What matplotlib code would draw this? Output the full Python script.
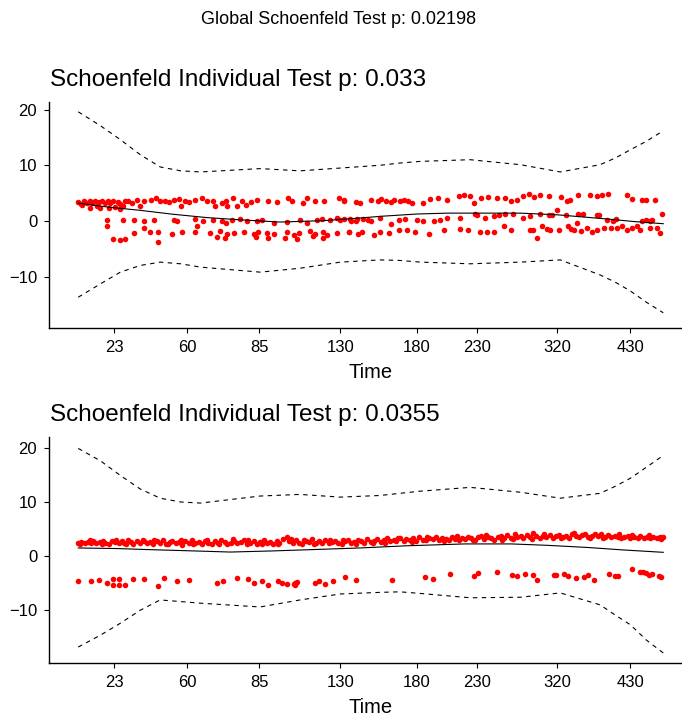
import matplotlib.pyplot as plt

plt.rcParams['font.family'] = ['Liberation Sans', 'DejaVu Sans']

# x is the transformed (rank-scaled) time, 0..100; tick labels are real times
tick_pos = [6.15, 18.6, 30.9, 44.8, 57.9, 68.2, 81.9, 94.4]
tick_lab = ['23', '60', '85', '130', '180', '230', '320', '430']

global_title = 'Global Schoenfeld Test p: 0.02198'
titles = ['Schoenfeld Individual Test p: 0.033', 'Schoenfeld Individual Test p: 0.0355']

# ---- panel 1 residuals ----
p1_x = [0, 0.5, 0.6, 1.0, 1.5, 2, 2.4, 2.8, 3.2, 3.6, 4, 4.5, 5, 5.4, 6, 6.3, 6.8, 7.2, 7.6, 8,
        2, 3.8, 5.2, 7.2,
        8.5, 9.2, 10, 10.6, 11.3, 12.5, 13.3, 14, 14.8, 15.5, 16.4, 17.2, 17.5, 18.2, 19, 20, 21.1, 22,
        23, 23.4, 24.5, 25.2, 25.4, 26.5, 27.1, 28, 28.7, 29.5, 30.5, 32.5, 34, 35.9, 36.5, 38.5, 39.1,
        40.5, 42, 44.5, 45.5, 47.5,
        45.4, 48.2, 50, 51.2, 51.7, 52.6, 53.4, 54, 55, 55.6, 56.3, 57, 58.9, 60.2, 61.5, 63, 65, 66, 67,
        67.6, 68.8, 70, 71.5, 73, 74, 75, 76, 77, 77.9, 79, 80.5, 82.5, 83.5, 84, 85.5, 87.5, 88.6, 89.5,
        90.5, 93.8, 94.7, 96.3, 97, 98.6,
        # middle band
        4.9, 4.9, 7.7, 9.5, 11.2, 12.9, 16.3, 16.9, 20, 21.4, 23.1, 24.6, 25.2, 26.3, 27.7, 28.8, 30.6,
        31.4, 33.4, 35.7, 37.9, 39.1, 40.8, 41.7, 43.1, 44.2, 45.4, 46.6, 47.6,
        44.8, 46.5, 47.5, 48.6, 49.5, 50, 51.6, 53.4, 54.8, 55.8, 57.9, 59, 60.8, 61.9, 63, 65.3, 67.9,
        68.2, 69.6, 71, 71.9, 73, 74.4, 76.1, 77.3, 79, 80.5, 81, 81.9, 83.3, 85.5, 86.3, 88.7, 89, 90.4,
        91.4, 92, 96.4, 97, 97.8, 98.1, 99.8,
        # lower band
        9.5, 12.3, 13.7, 16, 17.7, 20, 22.6, 24.3, 25.4, 26.6, 28.3, 30, 30.8, 32.3, 33.4, 35.7, 36.8,
        37.7, 39.7, 40.5, 41.9, 42.5, 44.2, 46.2, 47.9,
        6, 7.1, 8, 13.7, 23.7, 25.1, 30.3, 32.5, 35.4, 37.4, 40.2, 41.9, 11.2, 20.3,
        46.2, 48.5, 50.5, 51.6, 53.1, 54.8, 56.2, 57.6, 59.9, 62.5, 65.3, 66.7, 68.7, 69.9, 71, 72.7,
        73.9, 77.3, 77.8, 78.4, 79.3, 80.1, 80.7, 82.1, 83.8, 84.7, 85.3, 87, 87.8, 88.7, 89.8, 91,
        92.1, 93, 93.8, 94.7, 95.5, 96.1, 97.8, 98.9, 99.5, 84.2, 85.9]
p1_y = [3.4, 3.1, 2.8, 3.5, 3.3, 3.6, 3.2, 3.5, 2.6, 3.4, 3.6, 3.2, 3.5, 3.3, 3.6, 2.5, 3.4, 3.1, 2.7, 3.5,
        2.3, 2.3, 2.4, 2.2,
        3.6, 3.3, 3.7, 2.6, 3.5, 3.7, 4.1, 3.5, 3.6, 3.4, 3.7, 4.0, 2.6, 3.6, 3.4, 3.7, 4.1, 3.5,
        3.6, 2.6, 3.3, 3.6, 2.7, 4.1, 2.6, 3.5, 2.9, 3.4, 3.7, 3.5, 3.4, 4.1, 3.6, 3.3, 4.1,
        3.5, 3.6, 4.1, 3.7, 3.4,
        3.5, 3.3, 3.8, 3.5, 4.0, 3.6, 3.4, 3.7, 3.5, 3.8, 3.6, 3.3, 3.2, 4.0, 4.2, 3.7, 4.5, 4.6, 4.4,
        3.2, 4.2, 4.3, 4.1, 4.1, 3.5, 3.8, 4.4, 4.8, 4.3, 4.6, 4.5, 4.3, 3.6, 3.8, 4.6, 4.6, 4.5, 4.7,
        4.8, 4.6, 4.0, 3.8, 3.8, 3.8,
        0.2, -1.0, 0.2, 0.2, -0.1, 0.2, 0.2, -0.1, 0.3, 0.0, 0.2, -0.1, -0.4, 0.1, 0.3, 0.0, -0.1,
        0.2, -0.3, -0.2, 0.2, -0.3, 0.1, 0.4, 0.2, 0.5, 0.3, -0.1, 0.4,
        0.1, 0.3, -0.1, 0.4, 0.2, 0.0, 0.5, -0.6, 0.2, 0.4, 0.2, 0.0, -0.1, 0.2, 0.6, 0.5, 1.3,
        1.1, 0.5, 0.8, 1.1, 1.2, 1.3, 0.5, 0.8, 1.2, 1.1, 1.0, 1.9, 1.1, 1.2, 1.2, 1.1, 1.0, 0.2,
        0.0, 0.3, 0.0, 0.2, -0.1, 0.1, 1.2,
        -2.1, -1.9, -2.0, -2.3, -2.0, -1.9, -2.2, -1.8, -2.4, -2.1, -2.0, -2.3, -1.9, -2.1, -2.4, -2.0, -2.5,
        -2.2, -1.8, -2.3, -2.0, -2.5, -2.1, -1.9, -2.3,
        -3.3, -3.4, -3.2, -3.7, -2.9, -3.0, -2.8, -3.1, -3.0, -3.3, -2.7, -3.1, -1.3, -1.0,
        -1.9, -1.9, -2.5, -1.9, -2.2, -1.7, -1.7, -1.9, -2.3, -1.7, -1.4, -1.6, -1.9, -1.9, -1.9, -1.0,
        -1.7, -1.7, -1.7, -3.0, -1.0, -1.4, -1.6, -1.7, -1.0, -1.6, -0.4, -1.3, -1.9, -1.6, -1.3, -1.3,
        -1.3, -1.0, -1.6, -1.3, -1.0, -1.6, -1.3, -1.3, -2.2, -1.4, -1.8]

p1_fit_x = [0, 5, 10.6, 16.2, 22, 27.7, 34.5, 41.9, 46, 52, 58, 63.1, 75.6, 81.9, 90.4, 94.9, 100]
p1_fit_y = [3.2, 2.5, 1.9, 1.2, 0.6, 0.2, -0.2, 0.05, 0.35, 0.85, 1.25, 1.4, 1.4, 1.1, 0.35, -0.1, -0.5]

band_x = [0, 3.8, 7.2, 10.6, 14, 17.5, 20.9, 31.1, 37.9, 44.8, 51.6, 55, 58.5, 67, 75.6, 82.4,
          89.2, 91.8, 94.4, 97.1, 100]
p1_hi = [19.6, 17.1, 14.6, 11.9, 9.7, 9.0, 8.8, 9.4, 9.0, 9.5, 10.0, 10.4, 10.7, 11.0, 10.1, 8.8,
         10.1, 11.3, 12.8, 14.3, 16.2]
p1_lo = [-13.7, -11.3, -9.2, -8.0, -7.4, -7.7, -8.3, -9.2, -8.5, -7.4, -7.0, -7.1, -7.4, -7.7, -7.4, -7.0,
         -9.7, -11.0, -12.6, -14.6, -16.5]

# ---- panel 2 residuals ----
p2_x = [0, 0.5, 1.1, 1.6, 2.2, 2.6, 3.1, 3.7, 4.2, 4.6, 5.3, 5.8, 6.2, 6.9, 7.4, 7.9, 8.5, 9.0, 9.4, 10.1,
        10.6, 11.2, 11.7, 12.3, 12.8, 13.4, 13.9, 14.5, 15.0, 15.6, 16.1, 16.7, 17.2, 17.8, 18.3, 18.9,
        19.4, 20.0, 20.6, 21.1, 21.7, 22.2, 22.8, 23.3, 23.9, 24.4, 25.0, 25.5, 26.1, 26.7, 27.2, 27.8,
        28.3, 28.9, 29.4, 30.0, 30.6, 31.1, 31.7, 32.2, 32.8, 33.3, 33.9, 34.4, 35.0, 35.6, 36.1, 36.7,
        37.2, 37.8, 38.3, 38.9, 39.4, 40.0, 40.6, 41.1, 41.7, 42.2, 42.8, 43.3, 43.9, 44.4, 45.0, 45.6,
        46.1, 46.7, 47.2, 47.8, 48.3, 48.9, 49.4, 50.0, 50.6, 51.1, 51.7, 52.2, 52.8, 53.3, 53.9, 54.4,
        55.0, 55.6, 56.1, 56.7, 57.2, 57.8, 58.3, 58.9, 59.4, 60.0, 60.6, 61.1, 61.7, 62.2, 62.8, 63.3,
        63.9, 64.4, 65.0, 65.6, 66.1, 66.7, 67.2, 67.8, 68.3, 68.9, 69.4, 70.0, 70.6, 71.1, 71.7, 72.2,
        72.8, 73.3, 73.9, 74.4, 75.0, 75.6, 76.1, 76.7, 77.2, 77.8, 78.3, 78.9, 79.4, 80.0, 80.6, 81.1,
        81.7, 82.2, 82.8, 83.3, 83.9, 84.4, 85.0, 85.6, 86.1, 86.7, 87.2, 87.8, 88.3, 88.9, 89.4, 90.0,
        90.6, 91.1, 91.7, 92.2, 92.8, 93.3, 93.9, 94.4, 95.0, 95.6, 96.1, 96.7, 97.2, 97.8, 98.3, 98.9,
        99.4, 100,
        0.3, 2.0, 4.0, 6.5, 8.2, 11.0, 13.0, 15.3, 17.5, 19.7, 22.0, 24.1, 26.4, 29.1, 31.4, 34.1, 36.4,
        38.6, 40.3, 43.0, 45.3, 47.5, 50.3, 52.5, 54.7, 57.0, 59.7, 62.5, 64.7, 67.5, 69.7, 72.5, 74.7,
        77.5, 79.7, 82.5, 84.7, 87.5, 89.7, 92.5, 94.7, 97.5, 99.7,
        # lower group
        0, 2.1, 3.5, 4.9, 5.9, 5.9, 6.9, 6.9, 8, 9.3, 11.3, 13.7, 14.7, 16.9, 19, 23.7, 24.7, 27.1, 29.1,
        30, 31.4, 32.5, 34.1, 34.8, 35.7, 37.1, 36.8, 37.4, 37.1, 40.5, 41.1, 42.2, 43.5, 45.6, 47.4,
        53.6, 59.3, 60.6, 63.5, 67.6, 68.4, 71.6, 74.1, 75, 76.4, 77.8, 78.4, 81.6, 83, 83.8, 85, 86.4,
        87.2, 88.2, 90.7, 91.8, 94.7, 96.1, 97, 97.5, 98.1, 99.2, 81.3, 92.3, 96.6, 99.6]
p2_y = [2.5, 2.6, 2.4, 2.6, 2.5, 2.7, 2.4, 2.6, 2.8, 2.5, 2.3, 2.7, 2.6, 2.4, 2.8, 2.5, 2.9, 2.6, 2.3, 2.7,
        2.5, 2.8, 2.4, 2.6, 2.2, 2.7, 2.5, 2.9, 2.3, 2.6, 2.8, 2.4, 2.6, 2.1, 2.7, 2.5,
        2.9, 2.4, 2.6, 2.2, 2.8, 2.5, 2.3, 2.7, 2.4, 2.9, 2.6, 2.2, 2.5, 2.8, 2.4, 2.6,
        3.0, 2.3, 2.5, 2.7, 2.2, 2.6, 2.9, 2.4, 2.6, 2.3, 2.8, 2.5, 3.1, 3.6, 2.7, 2.4,
        2.9, 2.5, 2.3, 2.8, 2.6, 3.2, 2.4, 2.7, 2.5, 2.9, 2.4, 2.6, 2.8, 2.5, 2.3, 2.7,
        2.9, 2.4, 2.6, 3.0, 2.7, 2.5, 3.1, 2.6, 2.8, 3.2, 2.6, 2.9, 3.3, 2.7, 3.0, 2.8,
        3.4, 2.7, 3.1, 2.9, 3.3, 2.8, 3.5, 3.0, 2.9, 3.3, 3.1, 3.6, 2.9, 3.4, 3.2, 3.0,
        3.5, 3.2, 2.9, 3.4, 3.1, 3.6, 3.3, 3.0, 3.5, 3.8, 3.2, 3.6, 3.4, 3.0, 3.5, 3.7,
        3.3, 3.9, 3.4, 3.1, 3.6, 3.8, 3.4, 3.9, 3.5, 4.2, 3.7, 3.4, 3.8, 3.5, 3.9, 3.4,
        3.7, 3.9, 3.6, 3.8, 3.4, 4.0, 3.7, 3.5, 3.9, 4.1, 3.6, 3.8, 4.0, 3.7, 4.1, 3.6,
        3.9, 3.5, 3.8, 3.6, 3.4, 3.6, 3.8, 3.4, 3.5, 3.3, 3.7, 3.4, 3.6, 3.3, 3.5, 3.4,
        3.6, 3.5,
        2.2, 2.9, 2.2, 2.9, 2.3, 3.0, 2.9, 2.2, 3.0, 2.3, 2.9, 2.2, 3.1, 2.9, 2.3, 2.2, 3.2,
        3.0, 2.2, 3.0, 2.9, 2.2, 2.4, 2.5, 3.3, 2.6, 3.6, 2.8, 3.7, 2.9, 3.9, 3.0, 4.0,
        3.2, 4.1, 3.3, 4.2, 3.4, 3.3, 4.0, 3.9, 3.9, 3.2,
        -4.6, -4.6, -4.4, -5.0, -4.3, -5.3, -4.3, -5.3, -5.3, -4.3, -4.3, -5.5, -4.0, -4.6, -4.4, -4.9,
        -4.6, -4.0, -4.3, -4.9, -4.6, -5.3, -4.6, -4.9, -5.2, -4.9, -5.2, -4.7, -5.4, -4.9, -4.6, -5.2,
        -4.6, -3.8, -4.4,
        -4.5, -3.8, -4.3, -3.3, -3.6, -3.2, -3.0, -3.4, -3.6, -3.3, -3.4, -4.5, -3.4, -3.3, -3.6, -4.0,
        -3.9, -3.5, -4.4, -3.3, -3.6, -2.3, -2.9, -3.1, -3.4, -3.3, -3.6, -3.5, -3.6, -3.0, -3.9]

p2_fit_x = [0, 6.5, 12, 20, 26, 33, 40, 48, 56, 66, 74, 80, 87, 93, 100]
p2_fit_y = [1.5, 1.4, 1.2, 0.95, 0.75, 0.95, 1.2, 1.5, 1.9, 2.25, 2.25, 2.0, 1.6, 1.15, 0.7]

p2_hi = [19.9, 17.6, 14.9, 12.4, 10.7, 10.0, 9.8, 11.1, 11.4, 10.9, 11.2, 11.6, 12.0, 12.7, 11.8, 10.7,
         11.6, 12.9, 14.4, 16.4, 18.6]
p2_lo = [-16.8, -14.6, -12.4, -10.0, -8.1, -8.4, -8.7, -9.4, -8.1, -7.0, -6.7, -6.6, -6.9, -7.7, -7.6, -6.8,
         -9.0, -10.9, -12.7, -15.5, -17.9]

panels = [
    (p1_x, p1_y, p1_fit_x, p1_fit_y, p1_hi, p1_lo, (-19.24, 21.4), 0.5444),
    (p2_x, p2_y, p2_fit_x, p2_fit_y, p2_hi, p2_lo, (-19.8, 22.0), 0.0788),
]

fig = plt.figure(figsize=(6.82, 7.2), dpi=100)
fig.text(338.5 / 682, 1 - 19 / 720, global_title, ha='center', va='center', fontsize=13)

for i, (px, py, fx, fy, hi, lo, ylim, bottom) in enumerate(panels):
    ax = fig.add_axes([49 / 682, bottom, 643.5 / 682, 0.3142])
    ax.scatter(px, py, s=16, color='#FF0000', linewidths=0, zorder=2)
    ax.plot(fx, fy, color='black', lw=0.8, zorder=3)
    ax.plot(band_x, hi, color='black', lw=0.8, dashes=(4, 4))
    ax.plot(band_x, lo, color='black', lw=0.8, dashes=(4, 4))
    ax.set_xlim(-5, 105)
    ax.set_ylim(*ylim)
    ax.set_yticks([-10, 0, 10, 20])
    ax.set_xticks(tick_pos)
    ax.set_xticklabels(tick_lab)
    ax.spines['top'].set_visible(False)
    ax.spines['right'].set_visible(False)
    ax.spines['left'].set_linewidth(1.0)
    ax.spines['bottom'].set_linewidth(1.0)
    ax.tick_params(labelsize=12, length=3.5, width=0.8, colors='black', pad=5)
    ax.set_xlabel('Time', fontsize=14.5, labelpad=6)
    ax.set_ylabel('')
    top_px = 720 * (1 - (bottom + 0.3142))
    fig.text(50 / 682, 1 - (top_px - 22) / 720, titles[i], ha='left', va='center', fontsize=17.5)

plt.savefig('out.png', dpi=100)
